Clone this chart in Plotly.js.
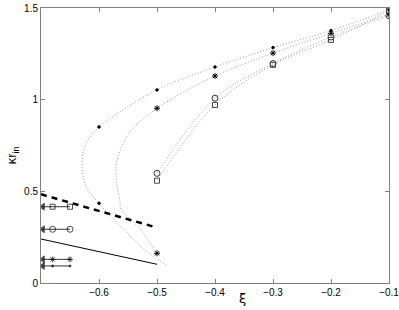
<!DOCTYPE html>
<html><head><meta charset="utf-8">
<script src="https://cdn.plot.ly/plotly-3.0.1.min.js"></script>
<style>html,body{margin:0;padding:0;background:#fff}#g{width:399px;height:310px}</style>
</head><body><div id="g"></div>
<script>
// marker points
const dotMarkX = [-0.6, -0.6, -0.5, -0.4, -0.3, -0.2, -0.1];
const dotMarkY = [0.435, 0.851, 1.053, 1.178, 1.284, 1.377, 1.49];
const starMarkX = [-0.5, -0.5, -0.4, -0.3, -0.2, -0.1];
const starMarkY = [0.162, 0.953, 1.129, 1.254, 1.362, 1.465];
const circMarkX = [-0.5, -0.4, -0.3, -0.2, -0.1];
const circMarkY = [0.598, 1.008, 1.197, 1.342, 1.458];
const sqMarkX = [-0.5, -0.4, -0.3, -0.2, -0.1];
const sqMarkY = [0.558, 0.971, 1.19, 1.326, 1.485];
// dotted branch curves
const dotCurveX = [-0.484, -0.524, -0.559, -0.6005, -0.619, -0.6276, -0.629, -0.6276, -0.619, -0.6, -0.5, -0.4, -0.3, -0.2, -0.1];
const dotCurveY = [0.098, 0.189, 0.298, 0.435, 0.507, 0.580, 0.655, 0.709, 0.780, 0.851, 1.053, 1.178, 1.284, 1.377, 1.49];
const starCurveX = [-0.5, -0.53, -0.561, -0.5643, -0.570, -0.570, -0.561, -0.544, -0.5, -0.4, -0.3, -0.2, -0.1];
const starCurveY = [0.162, 0.298, 0.398, 0.453, 0.562, 0.653, 0.744, 0.835, 0.953, 1.129, 1.254, 1.362, 1.465];
// straight lines
const dashX = [-0.7, -0.5], dashY = [0.484, 0.302];
const solidX = [-0.7, -0.5], solidY = [0.240, 0.102];
// horizontal arrow lines at left
const arrowX = [-0.697, -0.68, -0.65];
const arrowSqY = 0.416, arrowCircY = 0.293, arrowStarY = 0.129, arrowDotY = 0.093;
const xTicks = [-0.6, -0.5, -0.4, -0.3, -0.2, -0.1];
const xTickText = ['\u22120.6', '\u22120.5', '\u22120.4', '\u22120.3', '\u22120.2', '\u22120.1'];
const yTicks = [0, 0.5, 1, 1.5];
const yTickText = ['0', '0.5', '1', '1.5'];

const grey = '#9a9a9a';
const traces = [];
function curve(x, y) {
  traces.push({x, y, mode: 'lines', line: {color: grey, width: 1, dash: '1px,2px', shape: 'spline', smoothing: 1}, hoverinfo: 'skip'});
}
curve(dotCurveX, dotCurveY);
curve(starCurveX, starCurveY);
curve(circMarkX, circMarkY);
curve(sqMarkX, sqMarkY);
traces.push({x: dashX, y: dashY, mode: 'lines', line: {color: '#000', width: 2.5, dash: '6px,5px'}});
traces.push({x: solidX, y: solidY, mode: 'lines', line: {color: '#000', width: 1}});
function arrowLine(y, sym, size) {
  traces.push({x: arrowX, y: arrowX.map(() => y), mode: 'lines+markers',
    line: {color: '#000', width: 0.8},
    marker: {symbol: ['triangle-left', sym, sym], size: [6, size, size], color: '#000', line: {color: '#000', width: 1}}});
}
arrowLine(arrowSqY, 'square-open', 5);
arrowLine(arrowCircY, 'circle-open', 6);
arrowLine(arrowStarY, 'asterisk-open', 5);
arrowLine(arrowDotY, 'circle', 2);
function marks(x, y, sym, size, col) {
  traces.push({x, y, mode: 'markers', marker: {symbol: sym, size, color: col, line: {color: col, width: 1}}});
}
marks(dotMarkX, dotMarkY, 'circle', 2.5, '#000');
marks(starMarkX, starMarkY, 'asterisk-open', 5, '#000');
marks(circMarkX, circMarkY, 'circle-open', 6, '#333');
marks(sqMarkX, sqMarkY, 'square-open', 5, '#444');

const axisCommon = {showgrid: false, zeroline: false, showline: true, mirror: 'ticks', linecolor: '#808080', linewidth: 1,
  ticks: 'inside', ticklen: 4, tickcolor: '#808080', ticklabeloverflow: 'allow',
  tickfont: {family: 'Liberation Sans', size: 10, color: '#000'}};
const layout = {
  width: 399, height: 310, showlegend: false,
  margin: {l: 41, r: 10, t: 8, b: 27},
  paper_bgcolor: '#fff', plot_bgcolor: '#fff',
  xaxis: Object.assign({}, axisCommon, {range: [-0.7, -0.1], tickvals: xTicks, ticktext: xTickText}),
  yaxis: Object.assign({}, axisCommon, {range: [0, 1.5], tickvals: yTicks, ticktext: yTickText}),
  annotations: [
    {text: '\u03be', xref: 'paper', yref: 'paper', x: 0.58, y: -0.055, xanchor: 'center', yanchor: 'middle', showarrow: false, font: {family: 'DejaVu Sans', size: 13, color: '#000'}},
    {text: '\u03bar<sub>in</sub>', xref: 'paper', yref: 'paper', x: -0.083, y: 0.465, xanchor: 'center', yanchor: 'middle', textangle: -90, showarrow: false, font: {family: 'Liberation Sans', size: 13, color: '#000'}}
  ]
};
Plotly.newPlot('g', traces, layout, {displayModeBar: false, staticPlot: true});
</script></body></html>
